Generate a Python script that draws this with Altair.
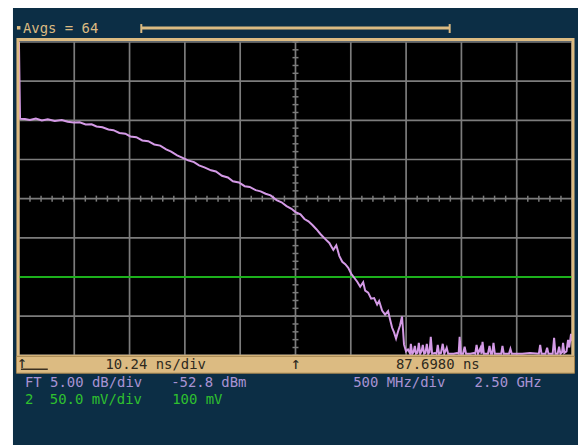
import altair as alt
import pandas as pd

# ---- data (frequency in GHz, level in dBm) ----
trace_f = [0.0, 0.01, 0.054, 0.099, 0.153, 0.207, 0.261, 0.324, 0.387, 0.441, 0.495, 0.549, 0.603,
           0.657, 0.701, 0.755, 0.809, 0.854, 0.908, 0.962, 1.007, 1.061, 1.115, 1.169, 1.223,
           1.277, 1.331, 1.376, 1.430, 1.475, 1.529, 1.583, 1.628, 1.682, 1.736, 1.781, 1.835,
           1.889, 1.934, 1.988, 2.041, 2.086, 2.140, 2.185, 2.230, 2.275, 2.329, 2.374, 2.419,
           2.464, 2.500, 2.545, 2.581, 2.617, 2.653, 2.689, 2.725, 2.770, 2.806, 2.842, 2.869,
           2.896, 2.923, 2.950, 2.977, 3.004, 3.031, 3.058, 3.085, 3.112, 3.130, 3.157, 3.184,
           3.211, 3.238, 3.256, 3.283, 3.310, 3.337, 3.355, 3.373, 3.391, 3.409, 3.427, 3.445,
           3.463, 3.472, 3.481, 3.499, 3.517, 3.535,
           3.543, 3.555, 3.567, 3.579, 3.590, 3.603, 3.615, 3.627, 3.639, 3.651, 3.663, 3.675,
           3.687, 3.700, 3.712, 3.723, 3.735, 3.760, 3.775, 3.786, 3.798, 3.815, 3.831, 3.845,
           3.867, 3.880, 3.930, 3.960, 3.975, 3.984, 3.995, 4.015, 4.029, 4.042, 4.080, 4.110,
           4.125, 4.137, 4.150, 4.173, 4.182, 4.191, 4.203, 4.240, 4.254, 4.266, 4.278, 4.290,
           4.302, 4.340, 4.360, 4.371, 4.383, 4.430, 4.443, 4.455, 4.550, 4.620, 4.700, 4.712,
           4.724, 4.760, 4.775, 4.787, 4.825, 4.838, 4.850, 4.870, 4.883, 4.895, 4.910, 4.919,
           4.930, 4.950, 4.964, 4.975, 4.991, 5.000]
trace_db = [-32.8, -42.6, -42.64, -42.77, -42.58, -42.83, -42.67, -42.89, -42.76, -42.98, -43.08,
            -43.05, -43.34, -43.30, -43.59, -43.68, -43.97, -44.06, -44.42, -44.51, -44.86, -44.95,
            -45.37, -45.46, -45.88, -46.03, -46.51, -46.79, -47.28, -47.56, -47.91, -48.13, -48.55,
            -48.83, -49.18, -49.34, -49.88, -50.10, -50.58, -50.73, -51.21, -51.30, -51.72, -51.87,
            -52.17, -52.38, -52.99, -53.27, -53.75, -54.10, -54.51, -54.80, -55.40, -55.69, -56.17,
            -56.70, -57.31, -57.97, -58.45, -59.34, -58.76, -60.10, -60.86, -61.17, -61.63, -62.39,
            -62.90, -63.40, -64.04, -63.46, -64.55, -64.80, -65.56, -65.49, -66.33, -65.87, -67.09,
            -67.60, -67.15, -68.23, -69.25, -69.88, -70.65, -69.75, -68.99, -67.85, -69.50, -71.41,
            -72.30, -72.04, -72.55,
            -71.33, -72.6, -72.4, -71.59, -72.6, -72.5, -71.21, -72.6, -72.3, -71.46, -72.6, -72.5,
            -71.33, -72.6, -72.4, -70.44, -72.6, -72.5, -72.6, -71.46, -72.6, -72.5, -71.33, -72.6,
            -71.84, -72.6, -72.6, -72.5, -72.6, -70.44, -72.6, -72.6, -71.71, -72.6, -72.6, -72.5,
            -72.6, -71.46, -72.6, -71.84, -72.6, -71.08, -72.6, -72.6, -71.59, -72.6, -72.6, -71.21,
            -72.6, -72.6, -72.6, -71.59, -72.6, -72.6, -71.97, -72.6, -72.6, -72.5, -72.6, -71.46,
            -72.6, -72.6, -71.84, -72.6, -72.6, -70.57, -72.6, -72.6, -71.71, -72.6, -72.4, -71.21,
            -72.5, -72.3, -70.82, -71.8, -70.06, -71.0]

ch2_f = [0.0, 5.0]
ch2_db = [-62.8, -62.8]

x_domain = [0.0, 5.0]              # 500 MHz/div, 10 div
y_domain = [-72.8, -32.8]          # 5 dB/div, 8 div, centre -52.8 dBm
grid_f = [0.0, 0.5, 1.0, 1.5, 2.0, 2.5, 3.0, 3.5, 4.0, 4.5, 5.0]
grid_db = [-72.8, -67.8, -62.8, -57.8, -52.8, -47.8, -42.8, -37.8, -32.8]
minor_f = [round(0.1 * k, 1) for k in range(51)]
minor_db = [round(-72.8 + k, 1) for k in range(41)]

label_avgs = "Avgs = 64"
label_tdiv = "10.24 ns/div"
label_tpos = "87.6980 ns"
label_ft = "FT 5.00 dB/div"
label_ref = "-52.8 dBm"
label_fdiv = "500 MHz/div"
label_fcen = "2.50 GHz"
label_ch2 = "2"
label_ch2div = "50.0 mV/div"
label_ch2off = "100 mV"

# ---- chart ----
W, H = 556, 315
NAVY = "#0c2e45"
TAN = "#dcbb82"
GRID = "#7c7c7c"
MONO = "DejaVu Sans Mono"

xs = alt.Scale(domain=x_domain, nice=False, zero=False)
ys = alt.Scale(domain=y_domain, nice=False, zero=False)

one = pd.DataFrame({"a": [0]})
trace_df = pd.DataFrame({"f": trace_f, "db": trace_db, "i": list(range(len(trace_f)))})
ch2_df = pd.DataFrame({"f": ch2_f, "db": ch2_db})
gf_df = pd.DataFrame({"f": grid_f})
gd_df = pd.DataFrame({"db": grid_db})
mf_df = pd.DataFrame({"f": minor_f})
md_df = pd.DataFrame({"db": minor_db})

bg = alt.Chart(one).mark_rect(color=NAVY).encode(
    x=alt.value(-6), x2=alt.value(W + 10), y=alt.value(-40), y2=alt.value(H + 100))
plot_bg = alt.Chart(one).mark_rect(color="black").encode(
    x=alt.value(0), x2=alt.value(W), y=alt.value(0), y2=alt.value(H))

vgrid = alt.Chart(gf_df).mark_rule(color=GRID, strokeWidth=1.7).encode(
    x=alt.X("f:Q", scale=xs, axis=None), y=alt.value(0), y2=alt.value(H))
hgrid = alt.Chart(gd_df).mark_rule(color=GRID, strokeWidth=1.7).encode(
    y=alt.Y("db:Q", scale=ys, axis=None), x=alt.value(0), x2=alt.value(W))
vminor = alt.Chart(mf_df).mark_rule(color=GRID, strokeWidth=1.5).encode(
    x=alt.X("f:Q", scale=xs, axis=None), y=alt.value(H / 2 - 3), y2=alt.value(H / 2 + 3))
hminor = alt.Chart(md_df).mark_rule(color=GRID, strokeWidth=1.5).encode(
    y=alt.Y("db:Q", scale=ys, axis=None), x=alt.value(W / 2 - 3), x2=alt.value(W / 2 + 3))

ch2 = alt.Chart(ch2_df).mark_line(color="#1cb01c", strokeWidth=2).encode(
    x=alt.X("f:Q", scale=xs, axis=None), y=alt.Y("db:Q", scale=ys, axis=None))
trace = alt.Chart(trace_df).mark_line(color="#d49ae6", strokeWidth=2, clip=True).encode(
    x=alt.X("f:Q", scale=xs, axis=None), y=alt.Y("db:Q", scale=ys, axis=None), order="i:Q")

frame = alt.Chart(one).mark_rect(filled=False, stroke=TAN, strokeWidth=3).encode(
    x=alt.value(-1), x2=alt.value(W + 1), y=alt.value(-2.5), y2=alt.value(H + 1))
bar = alt.Chart(one).mark_rect(color=TAN, stroke="#a2834f", strokeWidth=1).encode(
    x=alt.value(-2.5), x2=alt.value(W + 2.5), y=alt.value(H + 1), y2=alt.value(H + 18))

topline = alt.Chart(one).mark_rule(color=TAN, strokeWidth=3).encode(
    x=alt.value(123), x2=alt.value(433), y=alt.value(-14))
cap1 = alt.Chart(one).mark_rule(color=TAN, strokeWidth=2).encode(
    x=alt.value(123), y=alt.value(-18), y2=alt.value(-9))
cap2 = alt.Chart(one).mark_rule(color=TAN, strokeWidth=2).encode(
    x=alt.value(433), y=alt.value(-18), y2=alt.value(-9))
sq = alt.Chart(one).mark_rect(color=TAN).encode(
    x=alt.value(-2), x2=alt.value(1.5), y=alt.value(-16), y2=alt.value(-12.5))

icon_line = alt.Chart(one).mark_rule(color="#3a3020", strokeWidth=1.5).encode(
    x=alt.value(2), x2=alt.value(29), y=alt.value(H + 14))


def txt(s, x, y, color, align="left", size=14):
    return alt.Chart(one).mark_text(
        text=s, font=MONO, fontSize=size, color=color, align=align, baseline="middle"
    ).encode(x=alt.value(x), y=alt.value(y))


PURP = "#a893d3"
GREEN = "#2fc02f"
DARK = "#2e2a20"
texts = [
    txt(label_avgs, 4, -13, TAN),
    txt(label_tdiv, 87, H + 10, DARK),
    txt("↑", 278, H + 9, DARK, align="center", size=17),
    txt("↑", 3, H + 8, DARK, align="center", size=17),
    txt(label_tpos, 379, H + 10, DARK),
    txt(label_ft, 6, H + 28, PURP),
    txt(label_ref, 153, H + 28, PURP),
    txt(label_fdiv, 336, H + 28, PURP),
    txt(label_fcen, 458, H + 28, PURP),
    txt(label_ch2, 6, H + 45, GREEN),
    txt(label_ch2div, 31, H + 45, GREEN),
    txt(label_ch2off, 154, H + 45, GREEN),
]

chart = alt.layer(
    bg, plot_bg, vgrid, hgrid, vminor, hminor, ch2, trace,
    frame, bar, topline, cap1, cap2, sq, icon_line, *texts
).properties(
    width=W, height=H,
    autosize=alt.AutoSizeParams(type="none"),
    padding={"left": 11, "top": 33, "right": 6, "bottom": 89},
    background="white",
).configure_view(stroke="transparent")

chart.save("out.html", embed_options={"renderer": "svg", "actions": False})
